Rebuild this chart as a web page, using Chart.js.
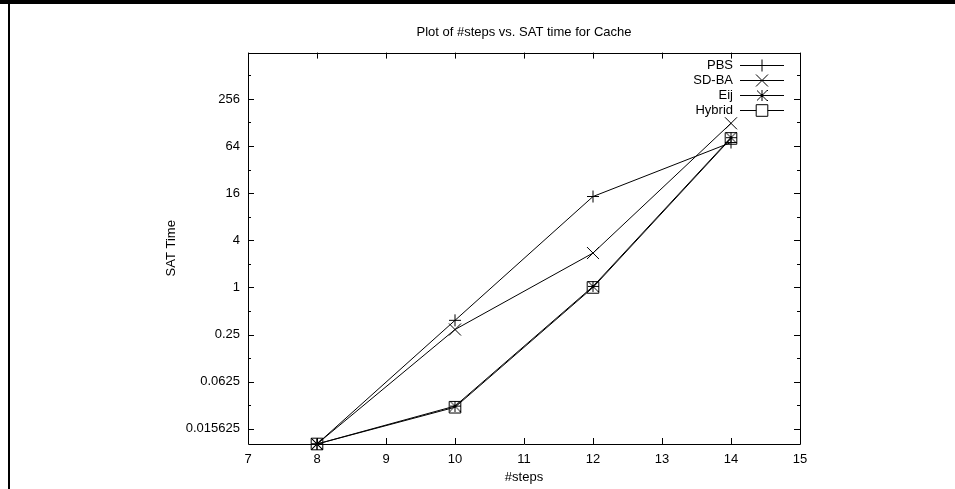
<!DOCTYPE html>
<html>
<head>
<meta charset="utf-8">
<title>Plot of #steps vs. SAT time for Cache</title>
<script src="https://cdn.jsdelivr.net/npm/chart.js@4.4.1/dist/chart.umd.min.js"></script>
<style>
  html, body { margin: 0; padding: 0; background: #fff; }
  #wrap { position: relative; width: 955px; height: 489px; overflow: hidden; }
  #satChart { position: absolute; left: 0; top: 0; }
  #frameTop { position: absolute; left: 0; top: 0; width: 955px; height: 4px; background: #000; }
  #frameLeft { position: absolute; left: 8px; top: 0; width: 2px; height: 489px; background: #000; }
</style>
</head>
<body>
<div id="wrap">
  <canvas id="satChart" width="955" height="489"></canvas>
  <div id="frameTop"></div>
  <div id="frameLeft"></div>
</div>
<script>
// --------- Data ---------

const steps = [8, 10, 12, 14];
const pbsTime = [0.01, 0.38, 14.5, 71];
const sdbaTime = [0.01, 0.29, 2.75, 125];
const eijTime = [0.01, 0.0305, 1.03, 82];
const hybridTime = [0.01, 0.0295, 1.0, 80];

const seriesNames = ["PBS", "SD-BA", "Eij", "Hybrid"];
const xTicks = [7, 8, 9, 10, 11, 12, 13, 14, 15];
// powers of two shown on the y axis, only even ones get a label
const yExponents = [-6, -5, -4, -3, -2, -1, 0, 1, 2, 3, 4, 5, 6, 7, 8, 9];

const FONT = '"Liberation Sans", Arial, Helvetica, sans-serif';

// gnuplot-like star: a plus and a cross reaching the corners
function makeStar(size) {
  const c = document.createElement("canvas");
  c.width = size;
  c.height = size;
  const g = c.getContext("2d");
  const m = size / 2;
  g.strokeStyle = "#000";
  g.lineWidth = 1;
  g.beginPath();
  g.moveTo(0, m); g.lineTo(size, m);
  g.moveTo(m, 0); g.lineTo(m, size);
  g.moveTo(0, 0); g.lineTo(size, size);
  g.moveTo(size, 0); g.lineTo(0, size);
  g.stroke();
  return c;
}

const starMark = makeStar(11);

function toPoints(values) {
  return steps.map((s, i) => ({ x: s, y: values[i] }));
}

function lineSet(label, values, style, radius) {
  return {
    label: label,
    data: toPoints(values),
    borderColor: "#000",
    backgroundColor: "rgba(0,0,0,0)",
    borderWidth: 1,
    pointStyle: style,
    pointRadius: radius,
    pointHoverRadius: radius,
    pointBorderColor: "#000",
    pointBorderWidth: 1,
    pointBackgroundColor: "rgba(0,0,0,0)",
    tension: 0,
    clip: false
  };
}

// --------- Plugins: frame + inward ticks, gnuplot legend ---------

const frameTicks = {
  id: "frameTicks",
  beforeDatasetsDraw(chart) {
    const { ctx, chartArea: a, scales } = chart;
    ctx.save();
    ctx.strokeStyle = "#000";
    ctx.lineWidth = 1;
    ctx.beginPath();
    ctx.rect(Math.round(a.left) + 0.5, Math.round(a.top) + 0.5,
      Math.round(a.right - a.left), Math.round(a.bottom - a.top));

    xTicks.forEach(v => {
      const px = Math.round(scales.x.getPixelForValue(v)) + 0.5;
      ctx.moveTo(px, a.bottom); ctx.lineTo(px, a.bottom - 6);
      ctx.moveTo(px, a.top); ctx.lineTo(px, a.top + 6);
    });

    yExponents.forEach(e => {
      const py = Math.round(scales.y.getPixelForValue(Math.pow(2, e))) + 0.5;
      const len = e % 2 === 0 ? 6 : 3;
      ctx.moveTo(a.left, py); ctx.lineTo(a.left + len, py);
      ctx.moveTo(a.right, py); ctx.lineTo(a.right - len, py);
    });
    ctx.stroke();
    ctx.restore();
  }
};

const gnuLegend = {
  id: "gnuLegend",
  afterDraw(chart) {
    const ctx = chart.ctx;
    ctx.save();
    ctx.font = "13px " + FONT;
    ctx.textAlign = "right";
    ctx.textBaseline = "middle";
    chart.data.datasets.forEach((ds, i) => {
      const y = 65.5 + i * 15;
      ctx.fillStyle = "#000";
      ctx.fillText(ds.label, 733, y);
      ctx.strokeStyle = "#000";
      ctx.lineWidth = 1;
      ctx.beginPath();
      ctx.moveTo(740, y);
      ctx.lineTo(784, y);
      ctx.stroke();
      ctx.fillStyle = "#fff";
      Chart.helpers.drawPoint(ctx, {
        pointStyle: ds.pointStyle,
        radius: ds.pointRadius,
        borderWidth: 1,
        rotation: 0
      }, 762, y);
    });
    ctx.restore();
  }
};

// --------- Chart ---------

const ctx = document.getElementById("satChart").getContext("2d");

new Chart(ctx, {
  type: "line",
  data: {
    datasets: [
      lineSet(seriesNames[0], pbsTime, "cross", 6),
      lineSet(seriesNames[1], sdbaTime, "crossRot", 8.5),
      lineSet(seriesNames[2], eijTime, starMark, 5.5),
      lineSet(seriesNames[3], hybridTime, "rect", 8.2)
    ]
  },
  options: {
    responsive: false,
    animation: false,
    events: [],
    layout: { padding: { left: 160, right: 155, top: 0, bottom: 0 } },
    plugins: {
      legend: { display: false },
      tooltip: { enabled: false },
      title: {
        display: true,
        fullSize: false,
        text: "Plot of #steps vs. SAT time for Cache",
        color: "#000",
        font: { family: FONT, size: 13, weight: "normal" },
        padding: { top: 25, bottom: 12 }
      }
    },
    scales: {
      x: {
        type: "linear",
        min: 7,
        max: 15,
        grid: { display: false, drawTicks: false },
        border: { display: false },
        ticks: {
          stepSize: 1,
          color: "#000",
          padding: 8,
          font: { family: FONT, size: 13 }
        },
        title: {
          display: true,
          text: "#steps",
          color: "#000",
          font: { family: FONT, size: 13 }
        },
        afterFit(scale) { scale.height = 45; }
      },
      y: {
        type: "logarithmic",
        min: 0.01,
        max: 1000,
        grid: { display: false, drawTicks: false },
        border: { display: false },
        afterBuildTicks(scale) {
          scale.ticks = yExponents.map(e => ({ value: Math.pow(2, e) }));
        },
        ticks: {
          autoSkip: false,
          color: "#000",
          padding: 8,
          font: { family: FONT, size: 13 },
          callback: (value) => {
            const e = Math.round(Math.log2(value));
            return e % 2 === 0 ? String(Math.pow(2, e)) : "";
          }
        },
        title: {
          display: true,
          text: "SAT Time",
          color: "#000",
          font: { family: FONT, size: 13 }
        },
        afterFit(scale) { scale.width = 88; }
      }
    }
  },
  plugins: [frameTicks, gnuLegend]
});
</script>
</body>
</html>
